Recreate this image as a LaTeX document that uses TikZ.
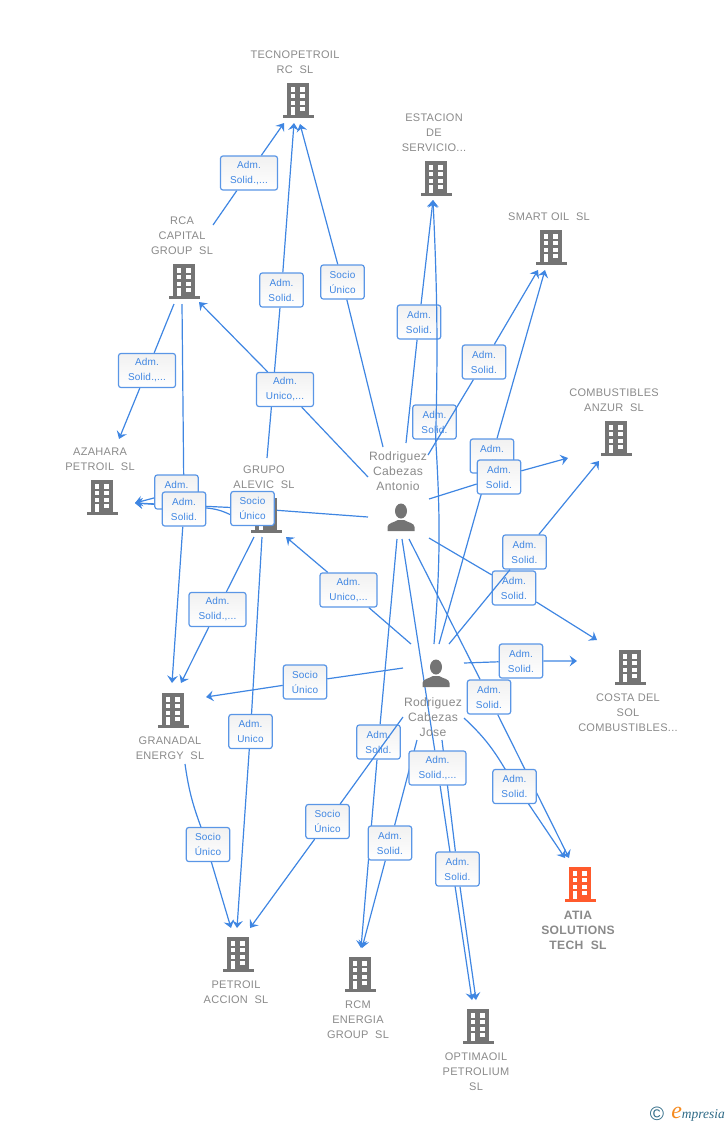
\documentclass[tikz,border=0pt]{standalone}
\usepackage{fontspec}
\usetikzlibrary{arrows.meta,backgrounds}
\setmainfont{Liberation Sans}
\newfontfamily\namefont[LetterSpace=2.7]{Liberation Sans}
\newfontfamily\lblfont[LetterSpace=2]{Liberation Sans}
\newfontfamily\brandfont{Liberation Serif}
\definecolor{linkblue}{HTML}{3F86E2}
\definecolor{boxblue}{HTML}{5A96E6}
\definecolor{boxgray}{HTML}{F1F1F1}
\definecolor{txtgray}{HTML}{8A8A8A}
\definecolor{icongray}{HTML}{747474}
\definecolor{iconred}{HTML}{FF5A2C}
\definecolor{brandteal}{HTML}{2E6A86}
\definecolor{brandorange}{HTML}{F58A1F}
\newcommand{\bldgicon}[1]{\begin{scope}[shift={(path picture bounding box.center)}]
\fill[#1] (-11,-17) rectangle (11,15);
\fill[#1] (-15.5,15) rectangle (15.5,18);
\foreach \ya/\yb in {-12.7/-8.3,-6/-1.7,0.7/5}{
\fill[white] (-7.3,\ya) rectangle (-2.7,\yb);
\fill[white] (2.3,\ya) rectangle (6.9,\yb);
}
\fill[white] (-7.3,7.3) rectangle (-2.7,15);
\fill[white] (2.3,7.3) rectangle (6.9,11);
\end{scope}}
\newcommand{\manicon}{\begin{scope}[shift={(path picture bounding box.center)}]
\fill[icongray] (0,-7) ellipse (6 and 7.5);
\fill[icongray] (-13.5,13) -- (-13.5,9) .. controls (-13.5,5) and (-7,4.5) .. (-3,2) -- (3,2) .. controls (7,4.5) and (13.5,5) .. (13.5,9) -- (13.5,13) -- cycle;
\end{scope}}
\tikzset{
bldg/.style={inner sep=0pt,minimum width=24pt,minimum height=28pt,path picture={\bldgicon{#1}}},
man/.style={inner sep=0pt,minimum width=21pt,minimum height=26pt,path picture={\manicon}},
nametxt/.style={align=center,inner sep=0pt,yshift=-0.75pt,text=txtgray,font=\namefont\fontsize{8.25}{11.25}\selectfont},
mantxt/.style={nametxt,font=\namefont\fontsize{9.1}{11.25}\selectfont},
lbl/.style={draw=boxblue,line width=0.9pt,rounded corners=1.8pt,top color=boxgray,bottom color=white,
 inner sep=0pt,minimum width=32.5pt,minimum height=25.5pt,align=center,text=linkblue,
 font=\lblfont\fontsize{7.5}{11.25}\selectfont},
lblw/.style={lbl,minimum width=42.7pt},
link/.style={draw=linkblue,line width=0.9pt,-{Stealth[length=5.5pt,width=8pt,inset=2pt]}},
}
\begin{document}
\begin{tikzpicture}[x=0.75pt,y=-0.75pt]
\useasboundingbox (0,0) rectangle (728,1125);
% companies
\node[bldg=icongray] (tecno) at (298,100) {};
\node[bldg=icongray] (estacion) at (436,178) {};
\node[bldg=icongray] (smart) at (551,247) {};
\node[bldg=icongray] (comb) at (616,438) {};
\node[bldg=icongray] (costa) at (630,667) {};
\node[bldg=iconred] (atia) at (580,884) {};
\node[bldg=icongray] (optima) at (478,1026) {};
\node[bldg=icongray] (rcm) at (360,974) {};
\node[bldg=icongray] (petroil) at (238,954) {};
\node[bldg=icongray] (granadal) at (173,710) {};
\node[bldg=icongray] (azahara) at (102,497) {};
\node[bldg=icongray] (grupo) at (266,515) {};
\node[bldg=icongray] (rca) at (184,281) {};
\node[man] (antonio) at (401,518) {};
\node[man] (jose) at (436,674) {};
% names
\node[nametxt] (tecnotxt) at (295,61.5) {TECNOPETROIL\\RC\ \ SL};
\node[nametxt] (estaciontxt) at (434,132) {ESTACION\\DE\\SERVICIO...};
\node[nametxt] (smarttxt) at (549,216) {SMART OIL\ \ SL};
\node[nametxt] (combtxt) at (614,399.5) {COMBUSTIBLES\\ANZUR\ \ SL};
\node[nametxt] (costatxt) at (628,712) {COSTA DEL\\SOL\\COMBUSTIBLES...};
\node[nametxt,font=\namefont\bfseries\fontsize{9.1}{11.25}\selectfont] (atiatxt) at (578,929) {ATIA\\SOLUTIONS\\TECH\ \ SL};
\node[nametxt] (optimatxt) at (476,1071) {OPTIMAOIL\\PETROLIUM\\SL};
\node[nametxt] (rcmtxt) at (358,1019) {RCM\\ENERGIA\\GROUP\ \ SL};
\node[nametxt] (petroiltxt) at (236,991.5) {PETROIL\\ACCION\ \ SL};
\node[nametxt] (granadaltxt) at (170,747.5) {GRANADAL\\ENERGY\ \ SL};
\node[nametxt] (azaharatxt) at (100,458.5) {AZAHARA\\PETROIL\ \ SL};
\node[nametxt] (grupotxt) at (264,476.5) {GRUPO\\ALEVIC\ \ SL};
\node[nametxt] (rcatxt) at (182,235) {RCA\\CAPITAL\\GROUP\ \ SL};
\node[mantxt] (antoniotxt) at (398,470) {Rodriguez\\Cabezas\\Antonio};
\node[mantxt] (josetxt) at (433,716) {Rodriguez\\Cabezas\\Jose};
% boxes
\node[lblw] (l1) at (249,173) {Adm.\\Solid.,...};
\node[lbl] (l2) at (281.5,290) {Adm.\\Solid.};
\node[lbl] (l3) at (342.5,282) {Socio\\Único};
\node[lblw] (l4) at (285,389.5) {Adm.\\Unico,...};
\node[lblw] (l5) at (147,370.5) {Adm.\\Solid.,...};
\node[lbl] (l6) at (419,322) {Adm.\\Solid.};
\node[lbl] (l7) at (434.5,422) {Adm.\\Solid.};
\node[lbl] (l8) at (484,362) {Adm.\\Solid.};
\node[lbl] (l9) at (492,456) {Adm.\\Solid.};
\node[lbl] (l10) at (499,477) {Adm.\\Solid.};
\node[lbl] (l11) at (524.5,552) {Adm.\\Solid.};
\node[lbl] (l12) at (514,588) {Adm.\\Solid.};
\node[lbl] (l13) at (521,661) {Adm.\\Solid.};
\node[lbl] (l14) at (489,697) {Adm.\\Solid.};
\node[lbl] (l15) at (514.5,786.5) {Adm.\\Solid.};
\node[lblw] (l16) at (437.5,768) {Adm.\\Solid.,...};
\node[lbl] (l17) at (457.5,869) {Adm.\\Solid.};
\node[lbl] (l18) at (378.5,742) {Adm.\\Solid.};
\node[lbl] (l19) at (390,843) {Adm.\\Solid.};
\node[lbl] (l20) at (327.5,821.5) {Socio\\Único};
\node[lblw] (l21) at (348.5,590) {Adm.\\Unico,...};
\node[lbl] (l22) at (305,682) {Socio\\Único};
\node[lblw] (l23) at (217.5,609.5) {Adm.\\Solid.,...};
\node[lbl] (l24) at (250.5,731.5) {Adm.\\Unico};
\node[lbl] (l25) at (208,844.5) {Socio\\Único};
\node[lbl] (l26) at (176.5,492) {Adm.\\Solid.};
\node[lbl] (l27) at (184,509) {Adm.\\Solid.};
\node[lbl] (l28) at (252.5,508.5) {Socio\\Único};
% line ends
\foreach \nm/\x/\y in {a1/383/447,a2/368/477,a3/368/517,a4/406/443,a5/428/455,a6/429/499,a7/429/538,a8/409/539,a9/402/539,a10/397/539,
 j1/434/644,j2/439/644,j3/449/644,j4/464/663,j5/464/718,j6/442/740,j7/417/740,j8/403/717,j9/411/644,j10/403/668,
 g1/267/458,g2/231/515,g3/254/537,g4/262/537,r1/213/225,r2/174/304,r3/182/304,gr1/185/764,
 tecA/284/123,tecB/294/123,tecC/300/124,rcaA/199/302,azaA/119/439,azaB/135/503,estA/433/200,smaA/538/270,smaB/545/270,
 comA/568/458,comB/599/461,cosA/597/640,cosB/577/661,atiA/569/858,atiB/565/858,optA/472/1000,optB/476/1000,rcmA/361/948,rcmB/362/948,
 petA/231/928,petB/237/928,petC/250/928,graA/172/683,graB/181/683,graC/206/697,gruA/286/537}
{\coordinate (\nm) at (\x,\y);}
% links behind the boxes
\begin{scope}[on background layer]
\draw[link] (r1) -- (l1) -- (tecA);
\draw[link] (g1) -- (l2) -- (tecB);
\draw[link] (a1) -- (l3) -- (tecC);
\draw[link] (a2) -- (l4) -- (rcaA);
\draw[link] (r2) -- (l5) -- (azaA);
\draw[link] (a4) -- (l6) -- (estA);
\draw[link] (j2) -- (l9) -- (smaB);
\draw[link] (a6) -- (l10) -- (comA);
\draw[link] (a7) -- (l12) -- (cosA);
\draw[link] (j4) -- (l13) -- (cosB);
\draw[link] (a8) -- (l14) -- (atiA);
\draw[link] (j5) to[bend left=8] (l15) -- (atiB);
\draw[link] (a9) -- (l16) -- (optA);
\draw[link] (j6) -- (l17) -- (optB);
\draw[link] (a10) -- (l18) -- (rcmA);
\draw[link] (j7) -- (l19) -- (rcmB);
\draw[link] (j9) -- (l21) -- (gruA);
\draw[link] (j10) -- (l22) -- (graC);
\draw[link] (g3) -- (l23) -- (graB);
\draw[link] (g4) -- (l24) -- (petB);
\draw[link] (gr1) to[bend right=6] (l25) -- (petA);
\draw[link] (l26) -- (azaB);
\draw[link] (r3) -- (l27) -- (graA);
\draw[link] (g2) to[bend right=10] (l27) -- (azaB);
\draw[link] (a3) -- (l28) -- (azaB);
\end{scope}
% links over other boxes
\draw[link] (j1) to[bend right=4] (l7) to[bend right=2] (estA);
\draw[link] (a5) -- (l8) -- (smaA);
\draw[link] (j3) -- (l11) -- (comB);
\draw[link] (j8) -- (l20) -- (petC);
% logo
\node[inner sep=0pt,text=brandteal,font=\fontsize{14.5}{14.5}\selectfont] (cpr) at (657,1114) {©};
\node[inner sep=0pt,text=brandteal,anchor=west,font=\brandfont\itshape\fontsize{10.1}{11}\selectfont] (brand) at (671,1114) {\textcolor{brandorange}{\fontsize{18}{18}\selectfont e}mpresia};
\end{tikzpicture}
\end{document}
